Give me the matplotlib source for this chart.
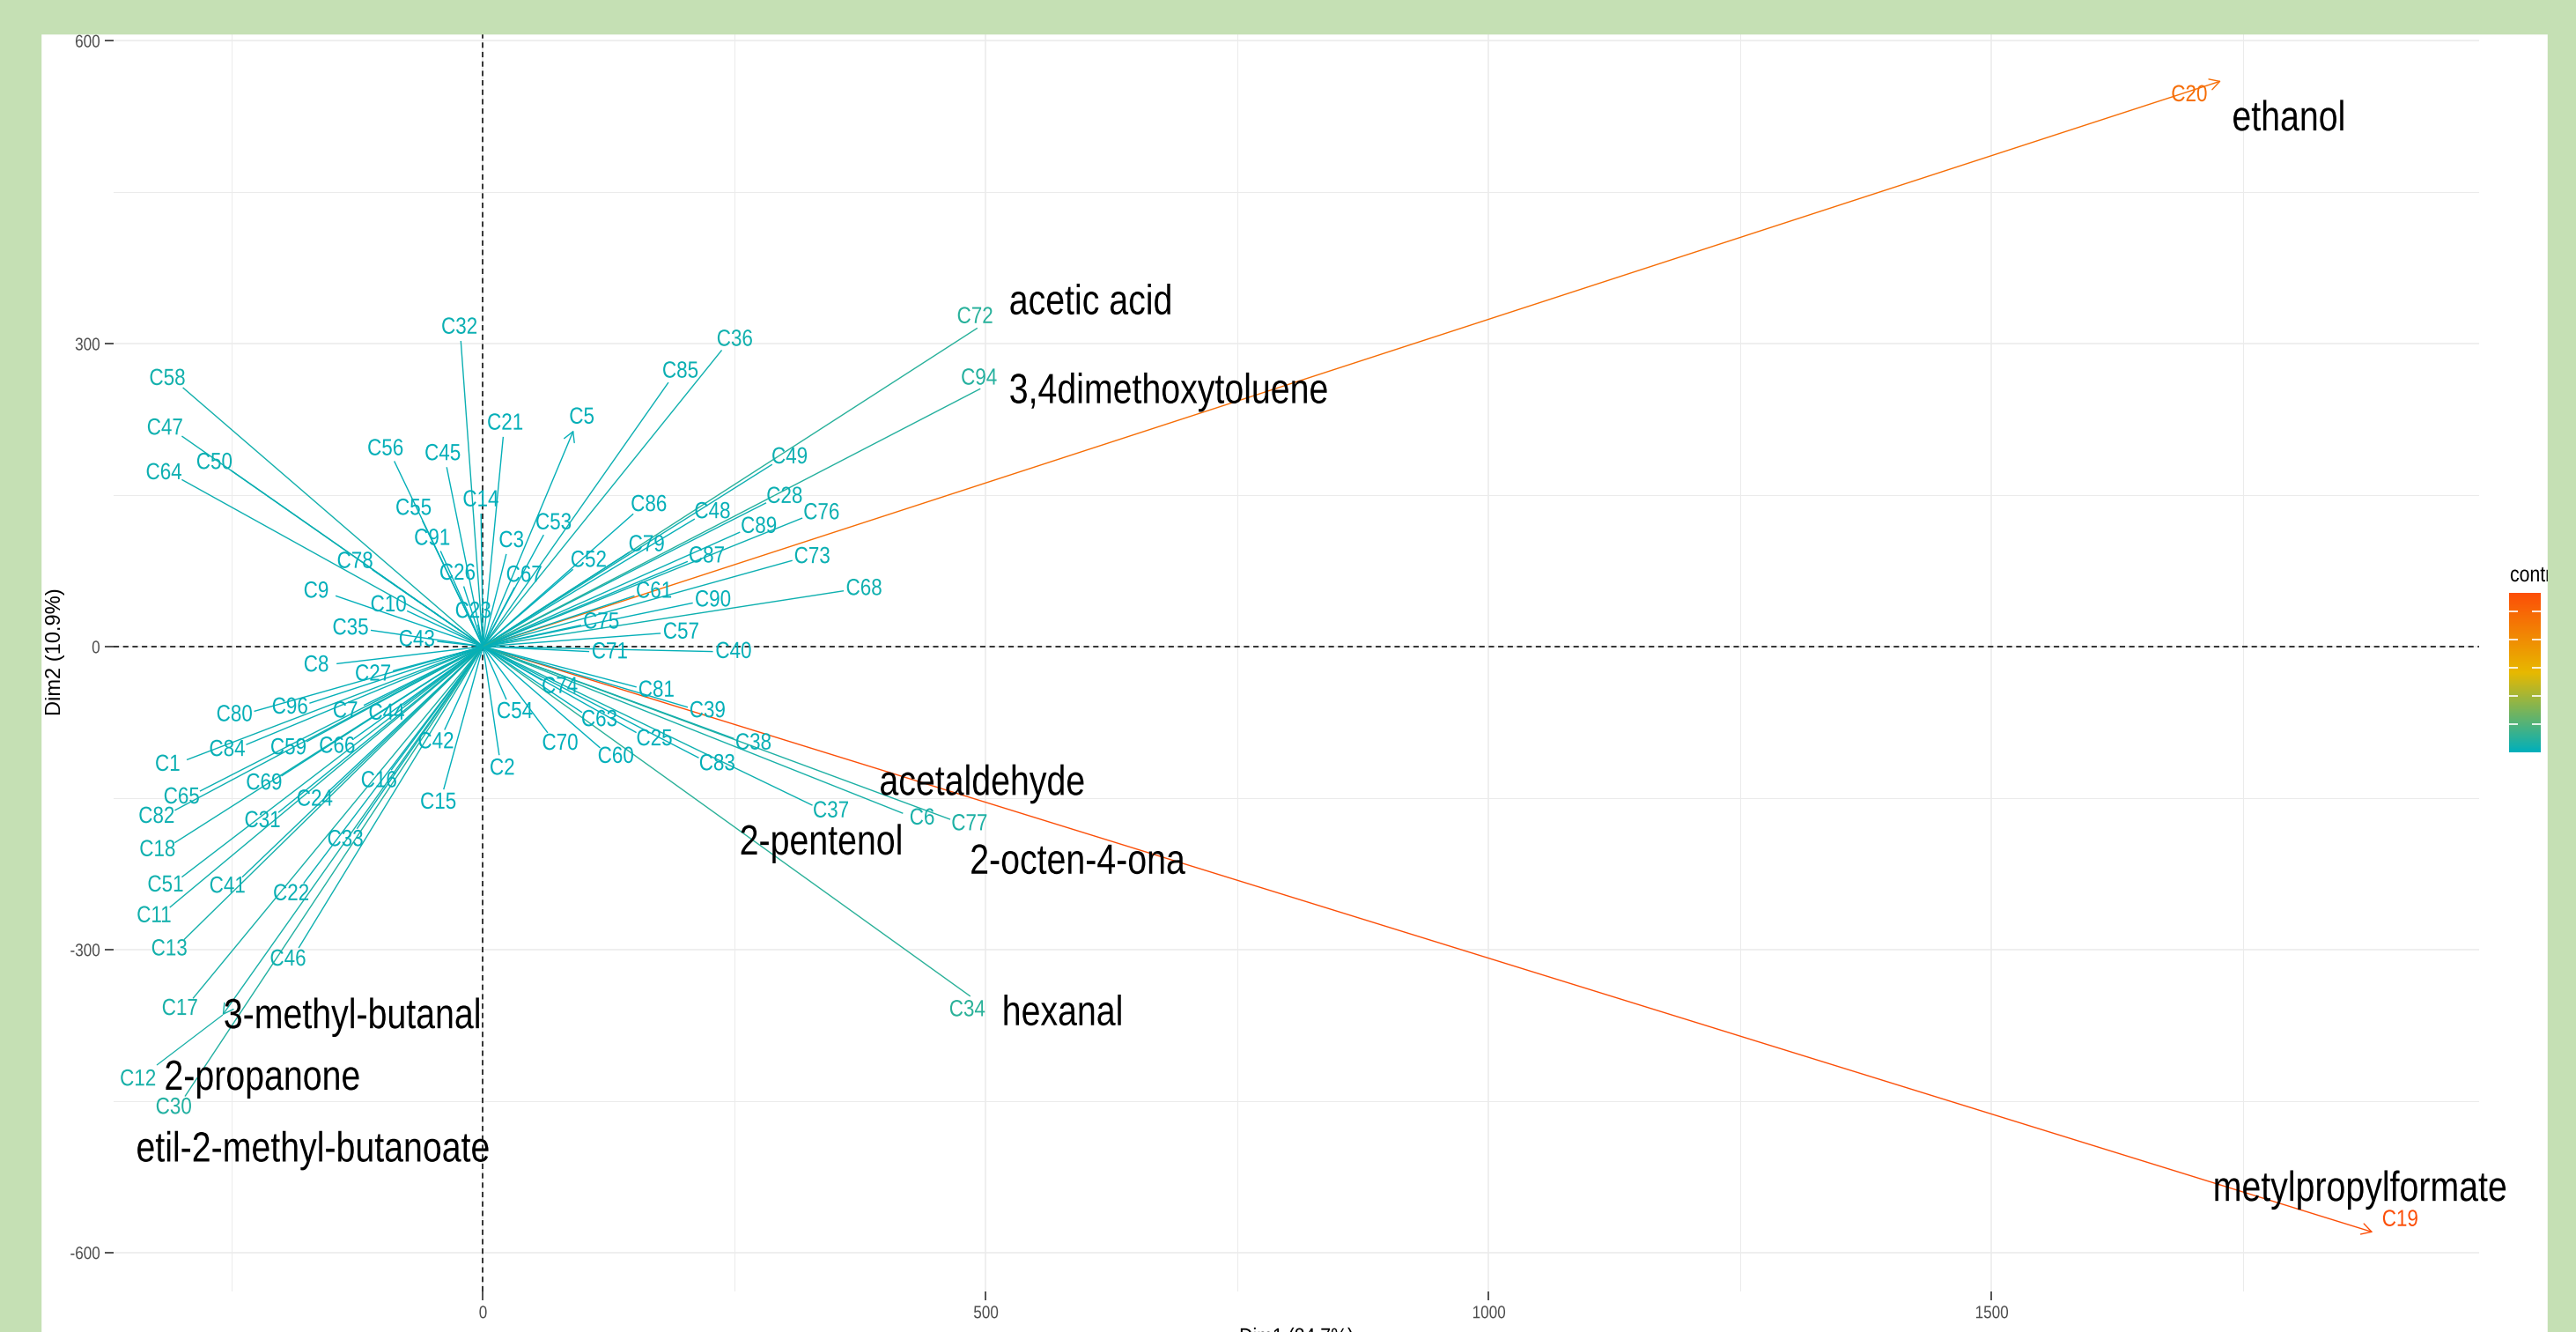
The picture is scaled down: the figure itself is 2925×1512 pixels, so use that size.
import numpy as np
import matplotlib
matplotlib.use("Agg")
import matplotlib.pyplot as plt
from matplotlib.colors import LinearSegmentedColormap, Normalize
from matplotlib.cm import ScalarMappable
from matplotlib.patches import Rectangle
from matplotlib.patheffects import AbstractPathEffect
from matplotlib.transforms import Affine2D

plt.rcParams['font.family'] = ['Liberation Sans', 'DejaVu Sans']
plt.rcParams['axes.unicode_minus'] = False

# variable coordinates on the first two dimensions
var_names = ['C1', 'C2', 'C3', 'C5', 'C6', 'C7', 'C8', 'C9', 'C10', 'C11',
             'C12', 'C13', 'C14', 'C15', 'C16', 'C17', 'C18', 'C19', 'C20', 'C21',
             'C22', 'C23', 'C24', 'C25', 'C26', 'C27', 'C28', 'C30', 'C31', 'C32',
             'C33', 'C34', 'C35', 'C36', 'C37', 'C38', 'C39', 'C40', 'C41', 'C42',
             'C43', 'C44', 'C45', 'C46', 'C47', 'C48', 'C49', 'C50', 'C51', 'C52',
             'C53', 'C54', 'C55', 'C56', 'C57', 'C58', 'C59', 'C60', 'C61', 'C63',
             'C64', 'C65', 'C66', 'C67', 'C68', 'C69', 'C70', 'C71', 'C72', 'C73',
             'C74', 'C75', 'C76', 'C77', 'C78', 'C79', 'C80', 'C81', 'C82', 'C83',
             'C84', 'C85', 'C86', 'C87', 'C89', 'C90', 'C91', 'C94', 'C96']
dim1 = [-294, 16, 23, 90, 417, -118, -145, -146, -75, -311,
        -259, -297, -2, -39, -91, -288, -306, 1879, 1728, 20,
        -178, -5, -152, 152, -19, -89, 281, -296, -203, -22,
        -125, 484, -111, 237, 327, 249, 203, 228, -239, -38,
        -45, -79, -36, -183, -299, 210, 287, -250, -299, 89,
        60, 23, -60, -88, 176, -298, -175, 116, 150, 98,
        -299, -281, -128, 31, 358, -200, 64, 105, 491, 307,
        58, 97, 317, 464, -110, 145, -227, 152, -306, 214,
        -235, 184, 149, 203, 255, 208, -42, 494, -172]
dim2 = [-112, -107, 91, 214, -165, -58, -17, 50, 35, -258,
        -365, -290, 131, -141, -122, -348, -194, -580, 560, 207,
        -234, 21, -142, -85, 59, -24, 142, -445, -164, 302,
        -180, -346, 16, 293, -157, -91, -60, -5, -228, -82,
        5, -58, 177, -298, 208, 126, 180, 174, -228, 76,
        110, -52, 124, 183, 13, 256, -94, -100, 50, -65,
        165, -143, -91, 58, 55, -128, -85, -5, 315, 85,
        -33, 21, 127, -171, 76, 93, -64, -40, -162, -110,
        -97, 261, 131, 84, 113, 43, 94, 255, -56]

# arrows whose head is visible in the chart
with_head = ['C5', 'C12', 'C19', 'C20']

# compound names written over the chart (left edge, baseline)
compounds = ['ethanol', 'acetic acid', '3,4dimethoxytoluene', 'acetaldehyde',
             '2-pentenol', '2-octen-4-ona', 'hexanal', '3-methyl-butanal',
             '2-propanone', 'etil-2-methyl-butanoate', 'metylpropylformate']
comp_x = [1739, 523, 523, 394, 255, 484, 516, -258, -317, -345, 1720]
comp_y = [511, 329, 241, -147, -206, -225, -375, -378, -439, -510, -549]

# a few labels that were pushed away from their arrow tip (pixels)
label_nudge = {'C12': (-96, -73), 'C20': (-36, -16), 'C19': (31, 14),
               'C34': (-3, -16), 'C72': (-2, 13), 'C94': (-1, 12)}


class Squeeze(AbstractPathEffect):
    """narrow the glyphs horizontally, like the squashed original"""
    def __init__(self, sx=0.82, about='left'):
        super().__init__()
        self.sx = sx
        self.about = about

    def draw_path(self, renderer, gc, tpath, affine, rgbFace=None):
        ext = tpath.get_extents()
        cx = {'left': 0.0, 'center': 0.5 * (ext.x0 + ext.x1), 'right': ext.x1}[self.about]
        t = Affine2D().translate(-cx, 0).scale(self.sx, 1).translate(cx, 0)
        renderer.draw_path(gc, tpath, t + affine, rgbFace)


W, H = 2925, 1512
fig = plt.figure(figsize=(W / 100, H / 100), dpi=100, facecolor='white')
ax = fig.add_axes([129 / W, 46 / H, (2815 - 129) / W, 1 - 46 / H])
ax.set_xlim(-367.3, 1984.7)
ax.set_ylim(-638.7, 640.2)
for s in ax.spines.values():
    s.set_visible(False)

ax.set_xticks([0, 500, 1000, 1500])
ax.set_xticks([-250, 250, 750, 1250, 1750], minor=True)
ax.set_yticks([-600, -300, 0, 300, 600])
ax.set_yticks([-450, -150, 150, 450], minor=True)
ax.tick_params(which='major', length=7, width=1.2, color='#333333',
               labelsize=14.5, labelcolor='#4D4D4D', pad=4)
ax.tick_params(which='minor', length=0)
ax.grid(which='major', color='#EBEBEB', lw=1.1)
ax.grid(which='minor', color='#EBEBEB', lw=0.7)
ax.set_axisbelow(True)
for lab in ax.get_xticklabels():
    lab.set_path_effects([Squeeze(0.85, 'center')])
for lab in ax.get_yticklabels():
    lab.set_path_effects([Squeeze(0.85, 'right')])

ax.axhline(0, color='black', lw=1.1, ls=(0, (4, 3)), zorder=2)
ax.axvline(0, color='black', lw=1.1, ls=(0, (4, 3)), zorder=2)

x = np.array(dim1, float)
y = np.array(dim2, float)
contrib = 100 * (x ** 2 + y ** 2) / np.sum(x ** 2 + y ** 2)
cmap = LinearSegmentedColormap.from_list('contrib', ['#00AFBB', '#E7B800', '#FC4E07'])
norm = Normalize(contrib.min(), contrib.max())

for name, xi, yi, ci in zip(var_names, x, y, contrib):
    col = cmap(norm(ci))
    if name in with_head:
        ax.annotate('', xy=(xi, yi), xytext=(0, 0),
                    arrowprops=dict(arrowstyle='->,head_length=0.8,head_width=0.45',
                                    color=col, lw=1.0, shrinkA=0, shrinkB=0),
                    zorder=3)
    else:
        ax.plot([0, xi], [0, yi], color=col, lw=1.0, zorder=3)
    if name in label_nudge:
        ox, oy = label_nudge[name]
    else:
        r = np.hypot(xi, yi)
        ox, oy = 24 * xi / r, 16 * yi / r
    far = np.hypot(ox, oy) > 40
    t = ax.annotate(name, xy=(xi, yi), xytext=(ox, oy), textcoords='offset pixels',
                    ha='center', va='center', fontsize=19, color=col, zorder=4,
                    arrowprops=dict(arrowstyle='-', color=col, lw=0.9,
                                    shrinkA=2, shrinkB=0) if far else None)
    t.set_path_effects([Squeeze(0.85, 'center')])

for s, cx, cy in zip(compounds, comp_x, comp_y):
    t = ax.text(cx, cy, s, fontsize=34.5, color='black', ha='left', va='baseline', zorder=5)
    t.set_path_effects([Squeeze(0.82, 'left')])

# axis titles
t = fig.text(1472 / W, 1 - 1506 / H, 'Dim1 (84.7%)', ha='center', va='top',
             fontsize=18, color='black')
t.set_path_effects([Squeeze(0.85, 'center')])
fig.text(63 / W, 1 - 740 / H, 'Dim2 (10.9%)', ha='center', va='center', rotation=90,
         fontsize=17, color='black')

# colour bar legend
cax = fig.add_axes([2849 / W, 1 - 854 / H, 36 / W, 181 / H])
sm = ScalarMappable(norm=norm, cmap=cmap)
cb = fig.colorbar(sm, cax=cax)
cb.outline.set_visible(False)
cb.set_ticks(np.arange(5, contrib.max(), 5))
cax.tick_params(colors='white', length=7, width=1.2, direction='in',
                left=True, right=True, labelright=False, labelleft=False)
t = fig.text(2850 / W, 1 - 653 / H, 'contrib', ha='left', va='center', fontsize=18, color='black')
t.set_path_effects([Squeeze(0.85, 'left')])

# slide frame
green = '#C5E0B4'
fig.patches.append(Rectangle((0, 0), 46 / W, 1, transform=fig.transFigure,
                             color=green, zorder=10))
fig.patches.append(Rectangle((2893 / W, 0), 1 - 2893 / W, 1, transform=fig.transFigure,
                             color=green, zorder=10))
fig.patches.append(Rectangle((0, 1 - 38 / H), 1, 38 / H, transform=fig.transFigure,
                             color=green, zorder=10))

fig.savefig('out.png', dpi=100, facecolor='white')
